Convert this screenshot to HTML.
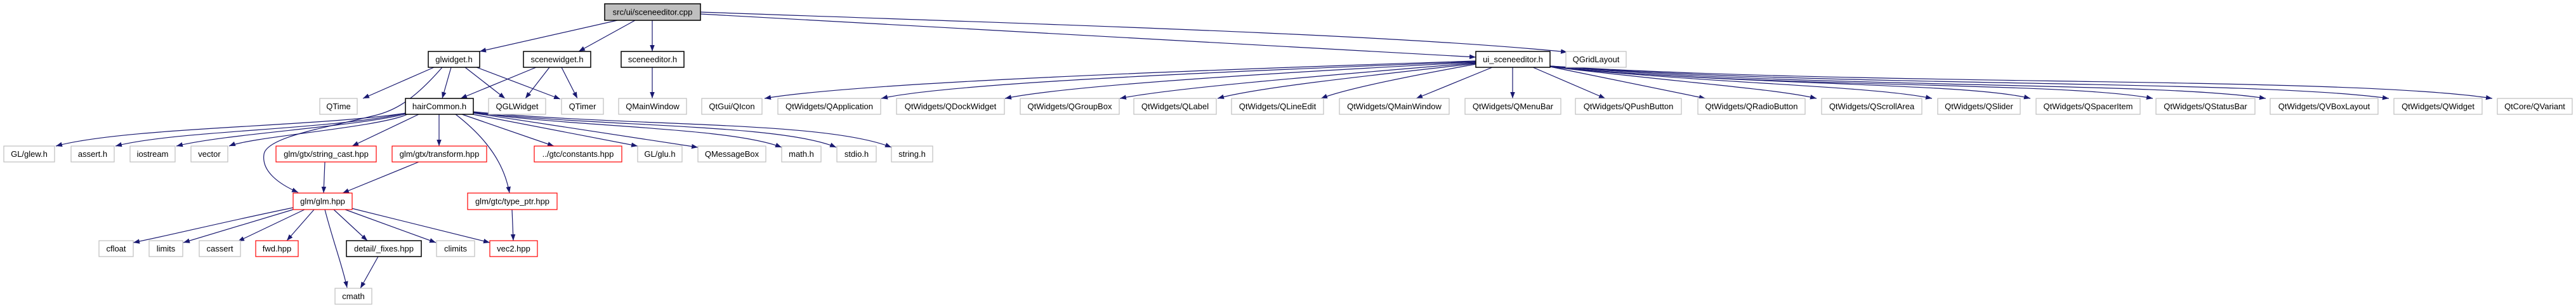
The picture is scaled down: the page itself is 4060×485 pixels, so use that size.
<!DOCTYPE html>
<html><head><meta charset="utf-8"><style>
html,body{margin:0;padding:0;background:#fff;}
svg{display:block;}
text{font-family:"Liberation Sans",Arial,sans-serif;font-size:13px;fill:#000;text-anchor:middle;}
.g{fill:#fff;stroke:#bfbfbf;stroke-width:1.2;}
.r{fill:#fff;stroke:#ff0000;stroke-width:1.2;}
.b{fill:#fff;stroke:#000;stroke-width:1.5;}
.e{fill:none;stroke:#191970;stroke-width:1.2;marker-end:url(#a);}
</style></head><body>
<svg width="4060" height="485" viewBox="0 0 4060 485" xmlns="http://www.w3.org/2000/svg">
<defs><marker id="a" markerUnits="userSpaceOnUse" markerWidth="11" markerHeight="8" refX="10" refY="3.75" orient="auto"><path d="M0,0 L10,3.75 L0,7.5 z" fill="#191970"/></marker></defs>

<!-- edges -->
<path class="e" d="M973,32 L756,81"/>
<path class="e" d="M1001,32 L912,81"/>
<path class="e" d="M1028,32 L1028,81"/>
<path class="e" d="M1104,22 C1600,50 2100,75 2326,90"/>
<path class="e" d="M1104,19 C1700,40 2200,55 2470,82"/>

<path class="e" d="M684,106 L572,155"/>
<path class="e" d="M711,106 L697,155"/>
<path class="e" d="M733,106 L796,155"/>
<path class="e" d="M751,106 L883,156"/>
<path class="e" d="M697,106 C650,160 620,175 590,182 C520,200 420,215 416,243 C412,270 440,290 470,303"/>

<path class="e" d="M845,106 L726,155"/>
<path class="e" d="M866,106 L828,155"/>
<path class="e" d="M885,106 L910,155"/>
<path class="e" d="M1028,106 L1028,155"/>

<path class="e" d="M640,178 C500,200 200,200 88,230"/>
<path class="e" d="M640,178 C520,205 280,205 182,230"/>
<path class="e" d="M641,179 C560,200 360,210 278,230"/>
<path class="e" d="M642,180 C600,200 400,215 361,230"/>
<path class="e" d="M660,180 L555,230"/>
<path class="e" d="M692,180 L692,230"/>
<path class="e" d="M718,180 C770,220 795,260 803,304"/>
<path class="e" d="M728,180 L873,230"/>
<path class="e" d="M745,180 L1005,230"/>
<path class="e" d="M746,178 L1100,232"/>
<path class="e" d="M746,177 C900,200 1150,200 1232,232"/>
<path class="e" d="M746,177 C950,200 1230,195 1318,232"/>
<path class="e" d="M746,176 C1000,200 1300,190 1405,232"/>

<path class="e" d="M512,255 L510,304"/>
<path class="e" d="M660,255 L540,304"/>

<path class="e" d="M462,327 C350,350 270,370 210,382"/>
<path class="e" d="M462,330 L289,382"/>
<path class="e" d="M480,330 L375,380"/>
<path class="e" d="M495,330 L452,379"/>
<path class="e" d="M512,330 C525,380 540,420 547,453"/>
<path class="e" d="M526,330 L579,379"/>
<path class="e" d="M544,330 L687,382"/>
<path class="e" d="M554,328 L772,382"/>
<path class="e" d="M807,330 L809,379"/>
<path class="e" d="M596,404 L568,454"/>

<!-- ui_sceneeditor left -->
<path class="e" d="M2326,96 C1900,110 1350,130 1205,155"/>
<path class="e" d="M2326,97 C1950,112 1500,130 1389,155"/>
<path class="e" d="M2326,98 C2000,115 1680,135 1584,155"/>
<path class="e" d="M2326,99 C2100,118 1850,138 1765,155"/>
<path class="e" d="M2326,100 C2150,120 1980,138 1919,155"/>
<path class="e" d="M2326,101 C2220,120 2120,140 2082,155"/>
<path class="e" d="M2352,106 L2232,155"/>
<path class="e" d="M2384,106 L2384,155"/>
<path class="e" d="M2416,106 L2530,155"/>
<path class="e" d="M2443,105 L2688,155"/>
<path class="e" d="M2443,105 C2650,130 2800,140 2863,155"/>
<path class="e" d="M2443,105 C2700,132 2950,135 3045,155"/>
<path class="e" d="M2443,105 C2750,135 3100,130 3200,155"/>
<path class="e" d="M2443,105 C2800,140 3250,128 3393,155"/>
<path class="e" d="M2443,104 C2850,140 3400,128 3571,155"/>
<path class="e" d="M2443,104 C2900,138 3550,125 3765,155"/>
<path class="e" d="M2443,104 C2950,136 3700,120 3928,155"/>

<!-- nodes -->
<rect x="953" y="6" width="151" height="26" fill="#bfbfbf" stroke="#000" stroke-width="1.5"/><text x="1028.5" y="23.5">src/ui/sceneeditor.cpp</text>

<rect class="b" x="675" y="81" width="81" height="25"/><text x="715.5" y="98">glwidget.h</text>
<rect class="b" x="825" y="81" width="106" height="25"/><text x="878" y="98">scenewidget.h</text>
<rect class="b" x="979" y="81" width="99" height="25"/><text x="1028.5" y="98">sceneeditor.h</text>
<rect class="b" x="2326" y="81" width="117" height="25"/><text x="2384.5" y="98">ui_sceneeditor.h</text>
<rect class="g" x="2468" y="81" width="95" height="25"/><text x="2515.5" y="98">QGridLayout</text>

<rect class="g" x="504" y="155" width="59" height="25"/><text x="533.5" y="172">QTime</text>
<rect class="b" x="639" y="155" width="107" height="25"/><text x="692.5" y="172">hairCommon.h</text>
<rect class="g" x="770" y="155" width="90" height="25"/><text x="815" y="172">QGLWidget</text>
<rect class="g" x="885" y="155" width="66" height="25"/><text x="918" y="172">QTimer</text>
<rect class="g" x="975" y="155" width="107" height="25"/><text x="1028.5" y="172">QMainWindow</text>
<rect class="g" x="1106" y="155" width="95" height="25"/><text x="1153.5" y="172">QtGui/QIcon</text>
<rect class="g" x="1226" y="155" width="162" height="25"/><text x="1307" y="172">QtWidgets/QApplication</text>
<rect class="g" x="1413" y="155" width="170" height="25"/><text x="1498" y="172">QtWidgets/QDockWidget</text>
<rect class="g" x="1608" y="155" width="156" height="25"/><text x="1686" y="172">QtWidgets/QGroupBox</text>
<rect class="g" x="1787" y="155" width="130" height="25"/><text x="1852" y="172">QtWidgets/QLabel</text>
<rect class="g" x="1941" y="155" width="145" height="25"/><text x="2013.5" y="172">QtWidgets/QLineEdit</text>
<rect class="g" x="2111" y="155" width="173" height="25"/><text x="2197.5" y="172">QtWidgets/QMainWindow</text>
<rect class="g" x="2309" y="155" width="151" height="25"/><text x="2384.5" y="172">QtWidgets/QMenuBar</text>
<rect class="g" x="2483" y="155" width="167" height="25"/><text x="2566.5" y="172">QtWidgets/QPushButton</text>
<rect class="g" x="2676" y="155" width="169" height="25"/><text x="2760.5" y="172">QtWidgets/QRadioButton</text>
<rect class="g" x="2871" y="155" width="158" height="25"/><text x="2950" y="172">QtWidgets/QScrollArea</text>
<rect class="g" x="3054" y="155" width="130" height="25"/><text x="3119" y="172">QtWidgets/QSlider</text>
<rect class="g" x="3209" y="155" width="164" height="25"/><text x="3291" y="172">QtWidgets/QSpacerItem</text>
<rect class="g" x="3398" y="155" width="156" height="25"/><text x="3476" y="172">QtWidgets/QStatusBar</text>
<rect class="g" x="3578" y="155" width="170" height="25"/><text x="3663" y="172">QtWidgets/QVBoxLayout</text>
<rect class="g" x="3773" y="155" width="139" height="25"/><text x="3842.5" y="172">QtWidgets/QWidget</text>
<rect class="g" x="3936" y="155" width="118" height="25"/><text x="3995" y="172">QtCore/QVariant</text>

<rect class="g" x="6" y="230" width="80" height="25"/><text x="46" y="247">GL/glew.h</text>
<rect class="g" x="112" y="230" width="68" height="25"/><text x="146" y="247">assert.h</text>
<rect class="g" x="205" y="230" width="71" height="25"/><text x="240.5" y="247">iostream</text>
<rect class="g" x="301" y="230" width="58" height="25"/><text x="330" y="247">vector</text>
<rect class="r" x="435" y="230" width="158" height="25"/><text x="514" y="247">glm/gtx/string_cast.hpp</text>
<rect class="r" x="618" y="230" width="149" height="25"/><text x="692.5" y="247">glm/gtx/transform.hpp</text>
<rect class="r" x="842" y="230" width="138" height="25"/><text x="911" y="247">../gtc/constants.hpp</text>
<rect class="g" x="1005" y="230" width="70" height="25"/><text x="1040" y="247">GL/glu.h</text>
<rect class="g" x="1100" y="230" width="107" height="25"/><text x="1153.5" y="247">QMessageBox</text>
<rect class="g" x="1232" y="230" width="62" height="25"/><text x="1263" y="247">math.h</text>
<rect class="g" x="1319" y="230" width="62" height="25"/><text x="1350" y="247">stdio.h</text>
<rect class="g" x="1405" y="230" width="65" height="25"/><text x="1437.5" y="247">string.h</text>

<rect class="r" x="462" y="304" width="93" height="26"/><text x="508.5" y="321.5">glm/glm.hpp</text>
<rect class="r" x="737" y="304" width="141" height="26"/><text x="807.5" y="321.5">glm/gtc/type_ptr.hpp</text>

<rect class="g" x="156" y="379" width="54" height="25"/><text x="183" y="396">cfloat</text>
<rect class="g" x="235" y="379" width="53" height="25"/><text x="261.5" y="396">limits</text>
<rect class="g" x="314" y="379" width="65" height="25"/><text x="346.5" y="396">cassert</text>
<rect class="r" x="403" y="379" width="67" height="25"/><text x="436.5" y="396">fwd.hpp</text>
<rect class="b" x="546" y="379" width="118" height="25"/><text x="605" y="396">detail/_fixes.hpp</text>
<rect class="g" x="688" y="379" width="60" height="25"/><text x="718" y="396">climits</text>
<rect class="r" x="772" y="379" width="75" height="25"/><text x="809.5" y="396">vec2.hpp</text>

<rect class="g" x="528" y="454" width="58" height="25"/><text x="557" y="471">cmath</text>
</svg>
</body></html>
